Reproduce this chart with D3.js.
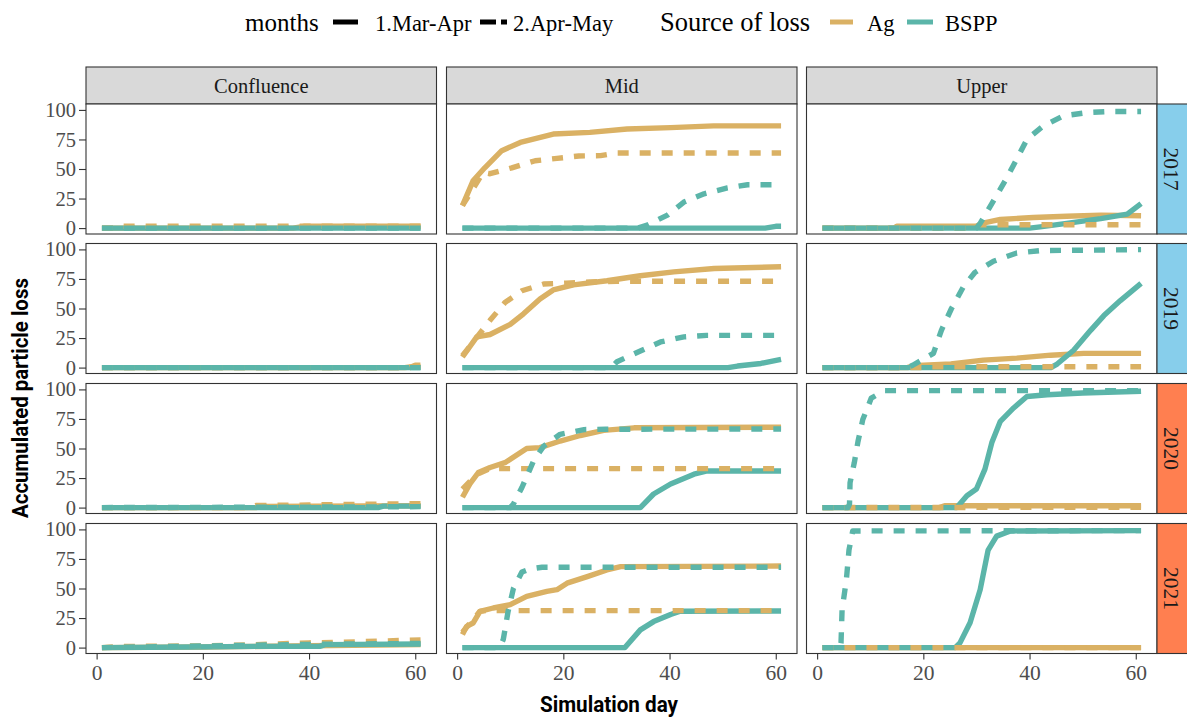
<!DOCTYPE html>
<html>
<head>
<meta charset="utf-8">
<script src="https://cdn.jsdelivr.net/npm/d3@7"></script>
<style>
  html, body { margin: 0; padding: 0; background: #ffffff; }
  svg { display: block; }
</style>
</head>
<body>
<svg id="chart" width="1187" height="719"></svg>
<script>
// ---------------- DATA ----------------
const sites = ["Confluence", "Mid", "Upper"];
const years = ["2017", "2019", "2020", "2021"];
const monthLevels = ["1.Mar-Apr", "2.Apr-May"];
const sources = ["Ag", "BSPP"];
const xTicks = [0, 20, 40, 60];
const yTicks = [0, 25, 50, 75, 100];

// [simulation day, accumulated particle loss]
// Confluence
const conf2017AgMar   = [[1,0],[37,0],[39,1.5],[61,1.5]];
const conf2017AgApr   = [[1,0],[4,0],[5,1.5],[61,1.5]];
const conf2017BsppMar = [[1,0],[61,0]];
const conf2017BsppApr = [[1,0],[61,0]];
const conf2019AgMar   = [[1,0],[58,0],[59,0.5],[61,0.5]];
const conf2019AgApr   = [[1,0],[59,0],[60,2],[61,2]];
const conf2019BsppMar = [[1,0],[61,0]];
const conf2019BsppApr = [[1,0],[61,0]];
const conf2020AgMar   = [[1,0],[30,0],[31,1],[61,1.5]];
const conf2020AgApr   = [[1,0],[29,0],[30,1.8],[40,2.2],[50,2.8],[61,3.3]];
const conf2020BsppMar = [[1,0],[53,0],[54,1.2],[61,1.2]];
const conf2020BsppApr = [[1,0],[40,0.4],[61,0.8]];
const conf2021AgMar   = [[1,0],[20,0.5],[40,1.5],[61,2.5]];
const conf2021AgApr   = [[1,0],[5,0.9],[20,1.5],[30,2.5],[40,4],[50,5],[61,6.5]];
const conf2021BsppMar = [[1,0],[18,0.5],[30,1],[42,1],[43,2.5],[61,3]];
const conf2021BsppApr = [[1,0],[15,1],[30,2],[45,3],[61,3.5]];
// Mid
const mid2017AgMar   = [[1,19],[3,40],[5.2,51],[8.4,65.5],[11.9,72.5],[18.1,79.6],[25,81],[32,83.8],[40.2,85],[48.3,86.5],[61,86.5]];
const mid2017AgApr   = [[1,19],[4.9,47],[6.2,46],[10.3,51],[14.7,57],[18.8,59],[22.9,61],[27,61.3],[30,63.6],[61,63.6]];
const mid2017BsppMar = [[1,0],[58,0],[60,1.5],[61,1.5]];
const mid2017BsppApr = [[1,0],[34,0],[35.8,2.5],[39.6,11],[42.7,22],[46.5,29],[50.9,34],[54.7,36.7],[61,36.7]];
const mid2019AgMar   = [[1,9],[3.7,26],[6.2,28],[10,36.5],[12.5,45.5],[15.6,58],[18.1,65.7],[21.9,70],[28.2,73.5],[34.5,77.7],[40.8,81],[48.4,83.9],[61,85.3]];
const mid2019AgApr   = [[1,10],[6.2,40],[9,55],[12.2,65],[16.3,70.7],[20.5,71.5],[25,72.5],[30,73],[61,73]];
const mid2019BsppMar = [[1,0],[51,0],[52.8,1.3],[57.2,3.5],[61,6.9]];
const mid2019BsppApr = [[1,0],[29,0],[30.1,5],[34.5,14],[38.3,21.7],[42.7,26],[47,27.3],[61,27.3]];
const mid2020AgMar   = [[1,8.7],[2.4,20],[4,29.7],[6.2,33.9],[9,38],[13.1,50],[15.6,50.7],[19.4,56.3],[23.2,61],[27.6,65.3],[33.3,67.5],[61,68]];
const mid2020AgApr   = [[1,15.7],[3.7,28],[6.2,33],[61,33]];
const mid2020BsppMar = [[1,0],[34.5,0],[37,11.5],[40.2,20],[44.6,28.3],[47.1,31],[61,31]];
const mid2020BsppApr = [[1,0],[10,0],[10.6,3],[12.2,17],[14.4,39.5],[16.3,52],[19.4,62],[23.9,66],[28,66.3],[61,66.5]];
const mid2021AgMar   = [[1,11],[1.8,18],[3,20.8],[4.3,30.7],[6.8,33.5],[10,36.3],[13.1,43.3],[16.9,47.5],[18.8,49],[20.7,54.5],[24.5,60],[28.2,65.7],[30.8,68.5],[61,69]];
const mid2021AgApr   = [[1,13],[4.3,30.7],[5.5,31.3],[61,31.3]];
const mid2021BsppMar = [[1,0],[31.6,0],[34.5,15],[37,22],[40.2,28],[42,30.7],[61,31]];
const mid2021BsppApr = [[1,0],[8,0],[8.7,7],[9.6,30.7],[10.6,50],[12.2,64],[13.7,66.5],[16,68],[61,68]];
// Upper
const up2017AgMar   = [[1,0],[14.5,0],[15,1.5],[30,1.5],[31,4],[34.5,7.3],[40.7,9],[47,10],[53.4,11],[61,10.5]];
const up2017AgApr   = [[1,0],[29.5,0],[30.5,2.8],[61,2.8]];
const up2017BsppMar = [[1,0],[40,0],[42,1],[47,4],[53.4,8],[58.4,11.8],[61,20.7]];
const up2017BsppApr = [[1,0],[30,0],[30.7,4],[32.9,20.7],[35.4,40],[37.6,58.5],[39.5,75],[42.6,86.5],[46.4,95],[50.8,97.7],[55,98.6],[61,98.6]];
const up2019AgMar   = [[1,0],[17,0],[18,1.5],[25.2,3],[31.3,6.3],[37.6,8],[44,10.5],[50.2,12],[61,12]];
const up2019AgApr   = [[1,0],[20,0],[21,0.7],[61,0.7]];
const up2019BsppMar = [[1,0],[44,0],[45.2,3],[48.3,14.7],[51.5,31.5],[54,44],[57.1,56.7],[61,71.3]];
const up2019BsppApr = [[1,0],[17,0],[18,2],[21.9,12],[23.4,31.5],[25.3,50],[27.5,68],[29.7,80.5],[33.2,90],[37.6,97],[42,99],[61,99.8]];
const up2020AgMar   = [[1,0],[23,0],[24,1.5],[61,1.5]];
const up2020AgApr   = [[1,0],[61,0.3]];
const up2020BsppMar = [[1,0],[26.3,0],[28.2,10],[30,15.7],[31.6,32.5],[32.9,55],[34.5,73],[37,84.3],[39.5,94],[43.3,95.5],[50,97],[61,98.5]];
const up2020BsppApr = [[1,0],[5.8,0],[6.1,3],[6.2,21],[7,38],[7.7,56],[8.6,74.5],[10.2,92.7],[12.7,99],[61,99]];
const up2021AgMar   = [[1,0],[61,0]];
const up2021AgApr   = [[1,0],[61,0]];
const up2021BsppMar = [[1,0],[26,0],[26.9,4],[28.8,21],[30.7,49],[32.2,82.5],[33.8,94.3],[36.4,98.7],[61,99]];
const up2021BsppApr = [[1,0],[4.3,0],[4.5,4],[4.7,32],[5.5,57],[6,82.5],[6.7,98.7],[61,99]];

// table built from the arrays above: [site, year, month, source, values]
const seriesTable = [
  ["Confluence","2017","1.Mar-Apr","Ag",conf2017AgMar],["Confluence","2017","1.Mar-Apr","BSPP",conf2017BsppMar],
  ["Confluence","2017","2.Apr-May","Ag",conf2017AgApr],["Confluence","2017","2.Apr-May","BSPP",conf2017BsppApr],
  ["Confluence","2019","1.Mar-Apr","Ag",conf2019AgMar],["Confluence","2019","1.Mar-Apr","BSPP",conf2019BsppMar],
  ["Confluence","2019","2.Apr-May","Ag",conf2019AgApr],["Confluence","2019","2.Apr-May","BSPP",conf2019BsppApr],
  ["Confluence","2020","1.Mar-Apr","Ag",conf2020AgMar],["Confluence","2020","1.Mar-Apr","BSPP",conf2020BsppMar],
  ["Confluence","2020","2.Apr-May","Ag",conf2020AgApr],["Confluence","2020","2.Apr-May","BSPP",conf2020BsppApr],
  ["Confluence","2021","1.Mar-Apr","Ag",conf2021AgMar],["Confluence","2021","1.Mar-Apr","BSPP",conf2021BsppMar],
  ["Confluence","2021","2.Apr-May","Ag",conf2021AgApr],["Confluence","2021","2.Apr-May","BSPP",conf2021BsppApr],
  ["Mid","2017","1.Mar-Apr","Ag",mid2017AgMar],["Mid","2017","1.Mar-Apr","BSPP",mid2017BsppMar],
  ["Mid","2017","2.Apr-May","Ag",mid2017AgApr],["Mid","2017","2.Apr-May","BSPP",mid2017BsppApr],
  ["Mid","2019","1.Mar-Apr","Ag",mid2019AgMar],["Mid","2019","1.Mar-Apr","BSPP",mid2019BsppMar],
  ["Mid","2019","2.Apr-May","Ag",mid2019AgApr],["Mid","2019","2.Apr-May","BSPP",mid2019BsppApr],
  ["Mid","2020","1.Mar-Apr","Ag",mid2020AgMar],["Mid","2020","1.Mar-Apr","BSPP",mid2020BsppMar],
  ["Mid","2020","2.Apr-May","Ag",mid2020AgApr],["Mid","2020","2.Apr-May","BSPP",mid2020BsppApr],
  ["Mid","2021","1.Mar-Apr","Ag",mid2021AgMar],["Mid","2021","1.Mar-Apr","BSPP",mid2021BsppMar],
  ["Mid","2021","2.Apr-May","Ag",mid2021AgApr],["Mid","2021","2.Apr-May","BSPP",mid2021BsppApr],
  ["Upper","2017","1.Mar-Apr","Ag",up2017AgMar],["Upper","2017","1.Mar-Apr","BSPP",up2017BsppMar],
  ["Upper","2017","2.Apr-May","Ag",up2017AgApr],["Upper","2017","2.Apr-May","BSPP",up2017BsppApr],
  ["Upper","2019","1.Mar-Apr","Ag",up2019AgMar],["Upper","2019","1.Mar-Apr","BSPP",up2019BsppMar],
  ["Upper","2019","2.Apr-May","Ag",up2019AgApr],["Upper","2019","2.Apr-May","BSPP",up2019BsppApr],
  ["Upper","2020","1.Mar-Apr","Ag",up2020AgMar],["Upper","2020","1.Mar-Apr","BSPP",up2020BsppMar],
  ["Upper","2020","2.Apr-May","Ag",up2020AgApr],["Upper","2020","2.Apr-May","BSPP",up2020BsppApr],
  ["Upper","2021","1.Mar-Apr","Ag",up2021AgMar],["Upper","2021","1.Mar-Apr","BSPP",up2021BsppMar],
  ["Upper","2021","2.Apr-May","Ag",up2021AgApr],["Upper","2021","2.Apr-May","BSPP",up2021BsppApr]
];

// ---------------- LAYOUT / STYLE ----------------
const W = 1187, H = 719;
const colLefts = [86, 446.5, 806.5];
const panelW = 350.5;
const rowTops = [104, 243.5, 383.5, 523.5];
const panelH = 130;
const stripTop = 67;
const rightStripX = 1157, rightStripW = 32;
const colorScale = d3.scaleOrdinal().domain(sources).range(["#DAB164", "#5BB5A9"]);
const dashScale = d3.scaleOrdinal().domain(monthLevels).range(["none", "11,11"]);
const yearFill = d3.scaleOrdinal().domain(years).range(["#87CEEB", "#87CEEB", "#FF7F50", "#FF7F50"]);
const serif = "'Liberation Serif', 'Times New Roman', serif";
const sans = "Roboto, 'Liberation Sans', Arial, sans-serif";
const lineW = 5.4;
const tickFont = 20.5;

const svg = d3.select("#chart");
svg.append("rect").attr("width", W).attr("height", H).attr("fill", "#ffffff");
const defs = svg.append("defs");

const x0 = d3.scaleLinear().domain([-2, 64]);
const y0 = d3.scaleLinear().domain([-5, 105]);
const line = d3.line().curve(d3.curveLinear);

sites.forEach((site, ci) => {
  const left = colLefts[ci];
  const x = x0.copy().range([left, left + panelW]);

  // top strip
  svg.append("rect").attr("x", left).attr("y", stripTop)
    .attr("width", panelW).attr("height", rowTops[0] - stripTop)
    .attr("fill", "#D9D9D9").attr("stroke", "#333333").attr("stroke-width", 1.1);
  svg.append("text").attr("x", left + panelW / 2).attr("y", (stripTop + rowTops[0]) / 2)
    .attr("dy", "0.35em").attr("text-anchor", "middle")
    .attr("font-family", serif).attr("font-size", 20.5).attr("fill", "#1A1A1A")
    .text(site);

  years.forEach((year, ri) => {
    const top = rowTops[ri];
    const y = y0.copy().range([top + panelH, top]);
    const g = svg.append("g");
    g.append("rect").attr("x", left).attr("y", top).attr("width", panelW).attr("height", panelH)
      .attr("fill", "#ffffff");
    const cid = `clip-${ci}-${ri}`;
    defs.append("clipPath").attr("id", cid).append("rect")
      .attr("x", left).attr("y", top).attr("width", panelW).attr("height", panelH);
    const lg = g.append("g").attr("clip-path", `url(#${cid})`);
    const ordered = [];
    monthLevels.forEach(m => sources.forEach(s => {
      const row = seriesTable.find(r => r[0] === site && r[1] === year && r[2] === m && r[3] === s);
      if (row) ordered.push(row);
    }));
    ordered.forEach(r => {
      lg.append("path")
        .attr("d", line.x(d => x(d[0])).y(d => y(d[1]))(r[4]))
        .attr("fill", "none")
        .attr("stroke", colorScale(r[3]))
        .attr("stroke-width", lineW)
        .attr("stroke-dasharray", dashScale(r[2]))
        .attr("stroke-linejoin", "round")
        .attr("stroke-linecap", "butt");
    });
    g.append("rect").attr("x", left).attr("y", top).attr("width", panelW).attr("height", panelH)
      .attr("fill", "none").attr("stroke", "#333333").attr("stroke-width", 1.1);

    if (ci === 0) {
      const ax = svg.append("g").attr("transform", `translate(${left},0)`)
        .call(d3.axisLeft(y).tickValues(yTicks).tickSize(7).tickPadding(3).tickFormat(d3.format("d")));
      ax.select(".domain").remove();
      ax.selectAll(".tick line").attr("stroke", "#333333").attr("stroke-width", 1.1);
      ax.selectAll(".tick text").attr("font-family", serif).attr("font-size", tickFont).attr("fill", "#4D4D4D");
    }
    if (ri === years.length - 1) {
      const ax = svg.append("g").attr("transform", `translate(0,${top + panelH})`)
        .call(d3.axisBottom(x).tickValues(xTicks).tickSize(6).tickPadding(5).tickFormat(d3.format("d")));
      ax.select(".domain").remove();
      ax.selectAll(".tick line").attr("stroke", "#333333").attr("stroke-width", 1.1);
      ax.selectAll(".tick text").attr("font-family", serif).attr("font-size", 21.5).attr("fill", "#4D4D4D");
    }
    if (ci === sites.length - 1) {
      svg.append("rect").attr("x", rightStripX).attr("y", top).attr("width", rightStripW).attr("height", panelH)
        .attr("fill", yearFill(year)).attr("stroke", "#333333").attr("stroke-width", 1.1);
      svg.append("text")
        .attr("transform", `translate(${rightStripX + 15},${top + panelH / 2}) rotate(90)`)
        .attr("dy", "0.35em").attr("text-anchor", "middle")
        .attr("font-family", serif).attr("font-size", 21.5).attr("fill", "#1A1A1A")
        .text(year);
    }
  });
});

// axis titles
svg.append("text").attr("x", 609).attr("y", 712).attr("text-anchor", "middle")
  .attr("font-family", sans).attr("font-weight", 700).attr("font-size", 22)
  .attr("textLength", 138).attr("lengthAdjust", "spacingAndGlyphs")
  .attr("fill", "#000000").text("Simulation day");
svg.append("text").attr("transform", "translate(28,398) rotate(-90)").attr("text-anchor", "middle")
  .attr("font-family", sans).attr("font-weight", 700).attr("font-size", 22)
  .attr("textLength", 240).attr("lengthAdjust", "spacingAndGlyphs")
  .attr("fill", "#000000").text("Accumulated particle loss");

// legend
const legY = 22, legBase = 31;
const leg = svg.append("g");
leg.append("text").attr("x", 245).attr("y", legBase).attr("font-family", serif).attr("font-size", 25)
  .attr("fill", "#000").text("months");
const monthKeys = [{x1: 333, x2: 358, tx: 375}, {x1: 480, x2: 507, tx: 513}];
monthLevels.forEach((m, i) => {
  leg.append("line").attr("x1", monthKeys[i].x1).attr("x2", monthKeys[i].x2).attr("y1", legY).attr("y2", legY)
    .attr("stroke", "#000").attr("stroke-width", 5)
    .attr("stroke-dasharray", i === 0 ? "none" : "16,5");
  leg.append("text").attr("x", monthKeys[i].tx).attr("y", legBase).attr("font-family", serif).attr("font-size", 22.5)
    .attr("fill", "#000").text(m);
});
leg.append("text").attr("x", 660).attr("y", legBase).attr("font-family", serif).attr("font-size", 26.5)
  .attr("fill", "#000").text("Source of loss");
const srcKeys = [{x1: 830, x2: 853, tx: 867}, {x1: 907, x2: 933, tx: 945}];
sources.forEach((s, i) => {
  leg.append("line").attr("x1", srcKeys[i].x1).attr("x2", srcKeys[i].x2).attr("y1", legY).attr("y2", legY)
    .attr("stroke", colorScale(s)).attr("stroke-width", 5);
  leg.append("text").attr("x", srcKeys[i].tx).attr("y", legBase).attr("font-family", serif).attr("font-size", 22.5)
    .attr("fill", "#000").text(s);
});
</script>
</body>
</html>
